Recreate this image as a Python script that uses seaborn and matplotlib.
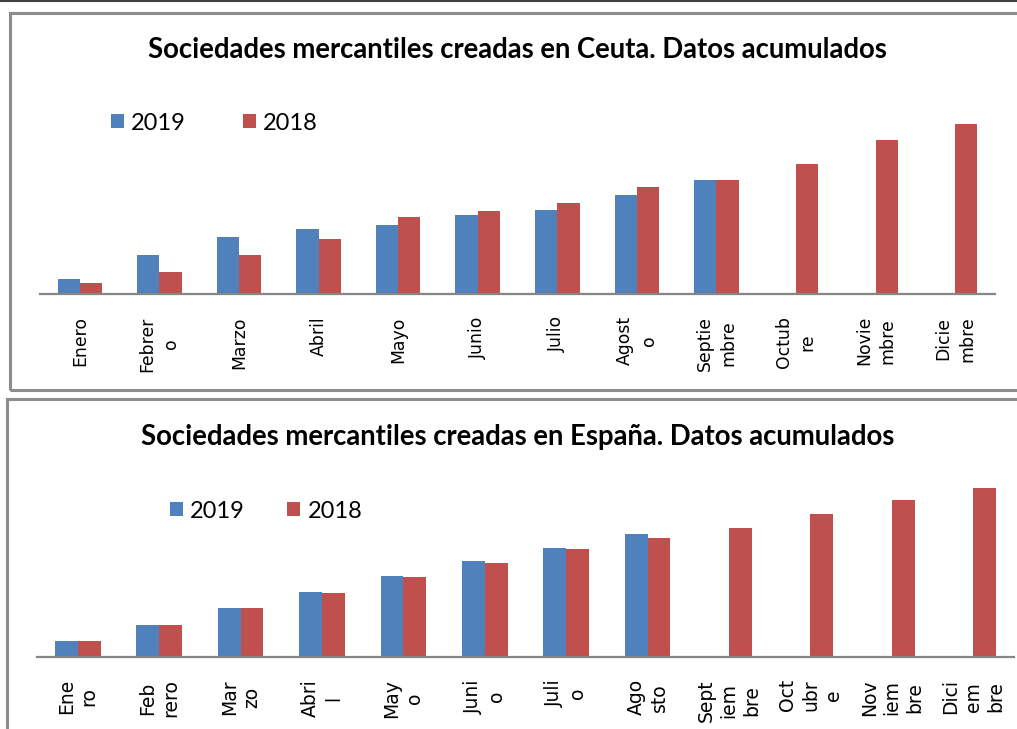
import pandas as pd
import matplotlib.pyplot as plt
import seaborn as sns
from matplotlib.patches import Rectangle
from matplotlib.lines import Line2D

# datos (Ceuta en unidades, Espana en miles)
meses = ['Enero', 'Febrero', 'Marzo', 'Abril', 'Mayo', 'Junio', 'Julio',
         'Agosto', 'Septiembre', 'Octubre', 'Noviembre', 'Diciembre']
ceuta_2019 = [15, 39, 57, 65, 69, 79, 84, 99, 114, None, None, None]
ceuta_2018 = [11, 22, 39, 55, 77, 83, 91, 107, 114, 130, 154, 170]
espana_2019 = [9.0, 18.1, 27.4, 36.9, 45.5, 54.2, 61.8, 69.7, None, None, None, None]
espana_2018 = [9.2, 18.1, 27.7, 36.3, 45.2, 53.3, 61.0, 67.0, 73.1, 80.8, 88.9, 95.5]

# etiquetas partidas tal como salen en el grafico
labels_ceuta = ['Enero', 'Febrer\no', 'Marzo', 'Abril', 'Mayo', 'Junio', 'Julio',
                'Agost\no', 'Septie\nmbre', 'Octub\nre', 'Novie\nmbre', 'Dicie\nmbre']
labels_espana = ['Ene\nro', 'Feb\nrero', 'Mar\nzo', 'Abri\nl', 'May\no', 'Juni\no', 'Juli\no',
                 'Ago\nsto', 'Sept\niem\nbre', 'Oct\nubr\ne', 'Nov\niem\nbre', 'Dici\nem\nbre']

colores = {'2019': '#4F81BD', '2018': '#C0504D'}
W, H = 1017, 729

plt.rcParams['font.family'] = 'DejaVu Sans'


def tabla(v19, v18):
    df = pd.DataFrame({'mes': meses * 2,
                       'anio': ['2019'] * 12 + ['2018'] * 12,
                       'valor': v19 + v18})
    return df.dropna()


def px_box(x0, y0, x1, y1):
    # caja en pixeles (origen arriba-izquierda) -> fracciones de figura
    return [x0 / W, 1 - y1 / H, (x1 - x0) / W, (y1 - y0) / H]


fig = plt.figure(figsize=(W / 100, H / 100), dpi=100)
fig.patch.set_facecolor('white')

# marcos de los dos paneles
gris = '#8c8c8c'
fig.add_artist(Line2D([0, 1], [1 - 1 / H, 1 - 1 / H], color='#404040', lw=1.5))
fig.add_artist(Rectangle((9.5 / W, 1 - 389.5 / H), 1.1, 377 / H, fill=False,
                         ec=gris, lw=2.2, transform=fig.transFigure))
fig.add_artist(Rectangle((6.5 / W, -0.1), 1.1, (0.1 + 1 - 399 / H), fill=False,
                         ec=gris, lw=2.2, transform=fig.transFigure))

paneles = [
    (tabla(ceuta_2019, ceuta_2018), labels_ceuta, px_box(40, 114, 995, 294), 180,
     'Sociedades mercantiles creadas en Ceuta. Datos acumulados', 50, (111, 123), 12.4, 2.4, 1.4),
    (tabla(espana_2019, espana_2018), labels_espana, px_box(37, 478, 1014, 657), 101.1,
     'Sociedades mercantiles creadas en España. Datos acumulados', 437, (170, 511), 13.5, 1.8, 1.25),
]

ejes = []
for df, etiquetas, caja, ymax, titulo, ty, (lx, ly), fs, colsp, lsp in paneles:
    ax = fig.add_axes(caja)
    sns.barplot(data=df, x='mes', y='valor', hue='anio', order=meses,
                hue_order=['2019', '2018'], palette=colores, saturation=1,
                width=0.56, gap=0, linewidth=0, ax=ax)
    ax.set_ylim(0, ymax)
    ax.set_xlim(-0.5, 11.5)
    ax.set_xlabel('')
    ax.set_ylabel('')
    ax.set_yticks([])
    for s in ['top', 'right', 'left']:
        ax.spines[s].set_visible(False)
    ax.spines['bottom'].set_color('#868686')
    ax.spines['bottom'].set_linewidth(1.6)
    ax.set_facecolor('none')
    ax.tick_params(axis='x', length=0, pad=16, labelsize=fs, labelrotation=90)
    ax.set_xticks(range(12))
    ax.set_xticklabels(etiquetas)
    ejes.append((ax, fs, lsp))

    handles, labs = ax.get_legend_handles_labels()
    ax.get_legend().remove()
    fig.legend(handles, labs, loc='center left',
               bbox_to_anchor=(lx / W, 1 - ly / H), ncol=2, frameon=False,
               prop={'family': 'Lato', 'size': 17}, borderpad=0,
               borderaxespad=0, handlelength=0.55, handleheight=0.55,
               handletextpad=0.3, columnspacing=colsp)

    fig.text(0.509, 1 - ty / H, titulo, ha='center', va='center',
             fontsize=19.8, fontweight='bold', family='Lato')

# las etiquetas se rehacen al dibujar: fijar tamano y espaciado despues
fig.canvas.draw()
for ax, fs, lsp in ejes:
    for t in ax.get_xticklabels():
        t.set_fontsize(fs)
        t.set_fontfamily('DejaVu Sans')
        t.set_multialignment('center')
        t.set_linespacing(lsp)

fig.savefig('out.png', dpi=100)
